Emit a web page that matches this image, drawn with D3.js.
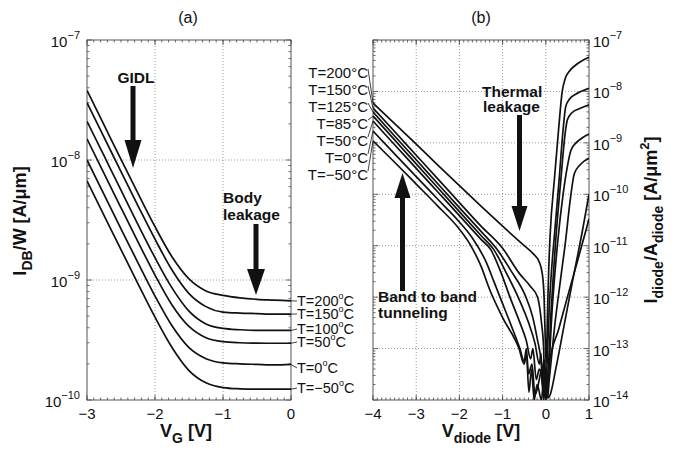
<!DOCTYPE html>
<html>
<head>
<meta charset="utf-8">
<script src="https://cdn.jsdelivr.net/npm/d3@7"></script>
<style>
  body { margin: 0; background: #fff; }
  svg { display: block; }
  text { font-family: "Liberation Sans", Arial, Helvetica, sans-serif; fill: #111; }
</style>
</head>
<body>
<script>
const width = 681;
const height = 450;

// ---------- panel (a): I_DB/W vs V_G ----------
const vgA = [-3, -2.75, -2.5, -2.25, -2, -1.75, -1.5, -1.25, -1, -0.75, -0.5, -0.25, 0];
const idbT200 = [3.8e-8, 1.96e-8, 1.01e-8, 5.26e-9, 2.78e-9, 1.56e-9, 1.02e-9, 8.1e-10, 7.45e-10, 7.1e-10, 6.9e-10, 6.8e-10, 6.7e-10];
const idbT150 = [3.0e-8, 1.55e-8, 8.0e-9, 4.15e-9, 2.19e-9, 1.21e-9, 7.7e-10, 6.0e-10, 5.4e-10, 5.3e-10, 5.25e-10, 5.2e-10, 5.2e-10];
const idbT100 = [2.1e-8, 1.085e-8, 5.6e-9, 2.9e-9, 1.535e-9, 8.6e-10, 5.5e-10, 4.3e-10, 3.95e-10, 3.85e-10, 3.8e-10, 3.8e-10, 3.8e-10];
const idbT50 = [1.5e-8, 7.75e-9, 4.0e-9, 2.08e-9, 1.1e-9, 6.2e-10, 4.1e-10, 3.3e-10, 3.06e-10, 3.0e-10, 2.98e-10, 2.97e-10, 2.97e-10];
const idbT0 = [1.0e-8, 5.16e-9, 2.67e-9, 1.39e-9, 7.35e-10, 4.15e-10, 2.73e-10, 2.21e-10, 2.04e-10, 2.0e-10, 1.98e-10, 1.96e-10, 1.98e-10];
const idbTm50 = [6.7e-9, 3.46e-9, 1.79e-9, 9.3e-10, 4.9e-10, 2.74e-10, 1.76e-10, 1.39e-10, 1.27e-10, 1.24e-10, 1.23e-10, 1.23e-10, 1.23e-10];
const labelsA = ["200", "150", "100", "50", "0", "\u221250"];

// ---------- panel (b): I_diode/A_diode vs V_diode, [V, I] ----------
const diodeT200 = [[-4,5.96e-9],[-3.5,2.37e-9],[-3,9.4e-10],[-2.5,3.7e-10],[-2,1.48e-10],[-1.5,5.9e-11],[-1,2.4e-11],[-0.5,1.0e-11],[-0.3,7.1e-12],[-0.15,4.8e-12],[-0.08,2.8e-12],[-0.04,1.0e-12],[-0.01,1.26e-13],[0.01,5.0e-14],[0.04,5.0e-13],[0.07,4.0e-12],[0.1,1.6e-11],[0.2,2.0e-10],[0.3,2.0e-9],[0.38,1.0e-8],[0.45,1.78e-8],[0.55,2.5e-8],[0.7,3.3e-8],[0.85,4.0e-8],[1,4.6e-8]];
const diodeT150 = [[-4,4.77e-9],[-3.5,1.66e-9],[-3,5.75e-10],[-2.5,2.0e-10],[-2,6.9e-11],[-1.5,2.4e-11],[-1,8.9e-12],[-0.6,2.8e-12],[-0.35,1.6e-12],[-0.19,1.0e-12],[-0.1,3.2e-13],[-0.05,1.0e-13],[-0.03,3.0e-14],[-0.02,6.0e-14],[0.0,1.5e-14],[0.02,3.2e-14],[0.08,6.3e-13],[0.14,4.0e-12],[0.19,1.29e-11],[0.3,1.58e-10],[0.4,1.78e-9],[0.46,5.0e-9],[0.55,7.1e-9],[0.7,8.9e-9],[1,1.15e-8]];
const diodeT125 = [[-4,3.98e-9],[-3.5,1.36e-9],[-3,4.7e-10],[-2.5,1.6e-10],[-2,5.5e-11],[-1.5,1.9e-11],[-1.12,8.3e-12],[-0.8,3.2e-12],[-0.46,1.0e-12],[-0.3,4.0e-13],[-0.2,1.58e-13],[-0.1,5.0e-14],[-0.07,2.5e-14],[-0.05,6.0e-14],[-0.03,1.58e-14],[0.05,3.2e-14],[0.12,5.0e-13],[0.18,3.2e-12],[0.23,1.29e-11],[0.35,2.0e-10],[0.45,1.58e-9],[0.5,2.8e-9],[0.6,3.8e-9],[0.8,4.7e-9],[1,5.5e-9]];
const diodeT85 = [[-4,3.33e-9],[-3.5,1.14e-9],[-3,3.9e-10],[-2.5,1.34e-10],[-2,4.6e-11],[-1.5,1.58e-11],[-1.2,8.3e-12],[-0.9,2.8e-12],[-0.64,1.0e-12],[-0.4,3.2e-13],[-0.25,1.26e-13],[-0.15,5.0e-14],[-0.11,8.0e-14],[-0.08,2.0e-14],[-0.05,4.0e-14],[-0.02,1.2e-14],[0.06,3.2e-14],[0.15,6.3e-13],[0.28,1.29e-11],[0.4,1.0e-10],[0.5,3.5e-10],[0.58,7.1e-10],[0.7,1.0e-9],[0.85,1.26e-9],[1,1.48e-9]];
const diodeT50 = [[-4,2.66e-9],[-3.5,9.2e-10],[-3,3.2e-10],[-2.5,1.11e-10],[-2,3.85e-11],[-1.5,1.33e-11],[-1.27,8.3e-12],[-1.05,3.2e-12],[-0.83,1.0e-12],[-0.6,3.2e-13],[-0.45,1.41e-13],[-0.35,6.3e-14],[-0.3,1.0e-13],[-0.22,2.5e-14],[-0.15,4.0e-14],[-0.1,3.0e-14],[-0.05,1.26e-14],[0.0,2.5e-14],[0.04,1.1e-14],[0.08,2.5e-14],[0.2,2.5e-13],[0.35,2.5e-12],[0.46,1.29e-11],[0.56,7.1e-11],[0.66,2.5e-10],[0.8,3.8e-10],[1,5.0e-10]];
const diodeT0 = [[-4,1.70e-9],[-3.5,6.1e-10],[-3,2.2e-10],[-2.5,8.0e-11],[-2,2.9e-11],[-1.7,1.41e-11],[-1.39,5.0e-12],[-1.2,2.0e-12],[-1.06,1.0e-12],[-0.8,2.8e-13],[-0.6,1.0e-13],[-0.5,5.6e-14],[-0.45,1.0e-13],[-0.4,3.2e-14],[-0.32,5.0e-14],[-0.25,1.26e-14],[-0.15,2.5e-14],[-0.1,4.0e-14],[-0.05,1.0e-14],[0.0,2.0e-14],[0.05,1.1e-14],[0.1,1.26e-14],[0.23,4.0e-14],[0.4,2.2e-13],[0.6,1.7e-12],[0.85,2.0e-11],[1,1.0e-10]];
const diodeTm50 = [[-4,1.09e-9],[-3.5,4.2e-10],[-3,1.58e-10],[-2.5,5.9e-11],[-2,2.1e-11],[-1.75,1.05e-11],[-1.5,4.0e-12],[-1.3,1.41e-12],[-1,4.0e-13],[-0.62,1.0e-13],[-0.5,5.0e-14],[-0.45,7.9e-14],[-0.39,1.41e-14],[-0.33,4.0e-14],[-0.27,1.0e-14],[-0.2,2.0e-14],[-0.1,1.0e-14],[-0.05,2.5e-14],[0.0,1.0e-14],[0.04,1.8e-14],[0.08,5.0e-14],[0.3,2.4e-13],[0.5,1.0e-12],[0.7,4.0e-12],[0.93,2.0e-11],[1,3.3e-11]];
const labelsB = ["200", "150", "125", "85", "50", "0", "\u221250"];

const ticksXA = [-3, -2, -1, 0];
const ticksXB = [-4, -3, -2, -1, 0, 1];
const decadesA = [-10, -9, -8, -7];
const decadesB = [-14, -13, -12, -11, -10, -9, -8, -7];

const svg = d3.select("body").append("svg")
  .attr("width", width)
  .attr("height", height);

const xA = d3.scaleLinear().domain([-3, 0]).range([87, 291]);
const yA = d3.scaleLog().domain([1e-10, 1e-7]).range([400, 40]);
const xB = d3.scaleLinear().domain([-4, 1]).range([373, 589]);
const yB = d3.scaleLog().domain([1e-14, 1e-7]).range([400, 40]);

const defs = svg.append("defs");

function drawFrame(x, y, xticks, decades, id) {
    const [x0, x1] = x.range();
    const [y1, y0] = y.range();
    const g = svg.append("g");

    defs.append("clipPath").attr("id", id)
      .append("rect").attr("x", x0).attr("y", y0).attr("width", x1 - x0).attr("height", y1 - y0);

    // dotted grid
    g.selectAll(".gx").data(xticks.slice(1, -1)).enter().append("line")
      .attr("x1", d => x(d)).attr("x2", d => x(d)).attr("y1", y0).attr("y2", y1)
      .attr("stroke", "#9a9a9a").attr("stroke-width", 1).attr("stroke-dasharray", "1,2");
    g.selectAll(".gy").data(decades.slice(1, -1)).enter().append("line")
      .attr("y1", d => y(Math.pow(10, d))).attr("y2", d => y(Math.pow(10, d))).attr("x1", x0).attr("x2", x1)
      .attr("stroke", "#9a9a9a").attr("stroke-width", 1).attr("stroke-dasharray", "1,2");

    // minor ticks
    const minorX = d3.range(xticks[0], xticks[xticks.length - 1] + 0.001, 0.1);
    const minorY = [];
    decades.slice(0, -1).forEach(e => { for (let k = 2; k < 10; k++) minorY.push(k * Math.pow(10, e)); });
    const tk = g.append("g").attr("stroke", "#444").attr("stroke-width", 0.8);
    minorX.forEach(v => {
        tk.append("line").attr("x1", x(v)).attr("x2", x(v)).attr("y1", y1).attr("y2", y1 - 2.5);
        tk.append("line").attr("x1", x(v)).attr("x2", x(v)).attr("y1", y0).attr("y2", y0 + 2.5);
    });
    xticks.forEach(v => {
        tk.append("line").attr("x1", x(v)).attr("x2", x(v)).attr("y1", y1).attr("y2", y1 - 5);
        tk.append("line").attr("x1", x(v)).attr("x2", x(v)).attr("y1", y0).attr("y2", y0 + 5);
    });
    minorY.forEach(v => {
        tk.append("line").attr("y1", y(v)).attr("y2", y(v)).attr("x1", x0).attr("x2", x0 + 2.5);
        tk.append("line").attr("y1", y(v)).attr("y2", y(v)).attr("x1", x1).attr("x2", x1 - 2.5);
    });
    decades.forEach(e => {
        const v = Math.pow(10, e);
        tk.append("line").attr("y1", y(v)).attr("y2", y(v)).attr("x1", x0).attr("x2", x0 + 5);
        tk.append("line").attr("y1", y(v)).attr("y2", y(v)).attr("x1", x1).attr("x2", x1 - 5);
    });

    g.append("rect").attr("x", x0).attr("y", y0).attr("width", x1 - x0).attr("height", y1 - y0)
      .attr("fill", "none").attr("stroke", "#555").attr("stroke-width", 1);

    // x tick labels
    g.selectAll(".xl").data(xticks).enter().append("text")
      .attr("x", d => x(d)).attr("y", y1 + 19)
      .attr("text-anchor", "middle").attr("font-size", 15)
      .text(d => d < 0 ? "\u2212" + Math.abs(d) : d);
}

function decadeLabel(x, yPos, e, anchor) {
    const t = svg.append("text").attr("x", x).attr("y", yPos + 7)
      .attr("font-size", 15).attr("text-anchor", anchor);
    t.append("tspan").text("10");
    t.append("tspan").attr("dy", -8).attr("font-size", 11).text("\u2212" + Math.abs(e));
}

drawFrame(xA, yA, ticksXA, decadesA, "clipA");
drawFrame(xB, yB, ticksXB, decadesB, "clipB");

decadesA.forEach(e => decadeLabel(80, yA(Math.pow(10, e)), e, "end"));
decadesB.forEach(e => decadeLabel(593, yB(Math.pow(10, e)), e, "start"));

// ---------- curves (a) ----------
const seriesA = [idbT200, idbT150, idbT100, idbT50, idbT0, idbTm50];
const lineA = d3.line().x(d => xA(d[0])).y(d => yA(d[1])).curve(d3.curveMonotoneX);
svg.append("g").attr("clip-path", "url(#clipA)")
  .selectAll("path").data(seriesA).enter().append("path")
  .attr("d", s => lineA(vgA.map((v, i) => [v, s[i]])))
  .attr("fill", "none").attr("stroke", "#111").attr("stroke-width", 1.7);

// labels (a) with leader lines
const labelYA = [301, 314, 329, 342, 368, 388];
seriesA.forEach((s, i) => {
    const yEnd = yA(s[s.length - 1]);
    svg.append("line").attr("x1", xA(0)).attr("y1", yEnd).attr("x2", 297).attr("y2", labelYA[i])
      .attr("stroke", "#111").attr("stroke-width", 0.8);
    const t = svg.append("text").attr("x", 297).attr("y", labelYA[i] + 5).attr("font-size", 14.5);
    t.append("tspan").text("T=" + labelsA[i]);
    t.append("tspan").attr("dy", -7).attr("font-size", 9).text("o");
    t.append("tspan").attr("dy", 7).text("C");
});

// ---------- curves (b) ----------
const seriesB = [diodeT200, diodeT150, diodeT125, diodeT85, diodeT50, diodeT0, diodeTm50];
const lineB = d3.line().x(d => xB(d[0])).y(d => yB(d[1])).curve(d3.curveMonotoneX);
svg.append("g").attr("clip-path", "url(#clipB)")
  .selectAll("path").data(seriesB).enter().append("path")
  .attr("d", s => lineB(s))
  .attr("fill", "none").attr("stroke", "#111").attr("stroke-width", 1.7);

const labelYB = [73, 90, 107, 124, 141, 158, 175];
seriesB.forEach((s, i) => {
    svg.append("text").attr("x", 368).attr("y", labelYB[i] + 5)
      .attr("text-anchor", "end").attr("font-size", 15)
      .text("T=" + labelsB[i] + "\u00b0C");
    svg.append("line").attr("x1", 368).attr("y1", labelYB[i] - 4).attr("x2", xB(s[0][0])).attr("y2", yB(s[0][1]))
      .attr("stroke", "#111").attr("stroke-width", 0.8);
});

// ---------- arrows ----------
function arrow(x, yTail, yTip, headL, headW, shaftW) {
    const dir = yTip > yTail ? 1 : -1;
    const yBase = yTip - dir * headL;
    svg.append("rect").attr("x", x - shaftW / 2).attr("y", Math.min(yTail, yBase))
      .attr("width", shaftW).attr("height", Math.abs(yBase - yTail)).attr("fill", "#111");
    svg.append("path")
      .attr("d", `M${x - headW / 2},${yBase}L${x + headW / 2},${yBase}L${x},${yTip}Z`)
      .attr("fill", "#111");
}
arrow(133, 86, 168, 28, 17, 5);
arrow(256, 224, 295, 26, 18, 5);
arrow(519.5, 115, 231, 25, 16, 5);
arrow(402.5, 291, 173, 25, 16, 5);

function boldText(x, y, str, anchor) {
    svg.append("text").attr("x", x).attr("y", y).attr("font-size", 15.5)
      .attr("font-weight", "bold").attr("text-anchor", anchor || "start").text(str);
}
boldText(136, 83, "GIDL", "middle");
boldText(223, 203, "Body");
boldText(223, 220, "leakage");
boldText(482, 97, "Thermal");
boldText(483, 112, "leakage");
boldText(378, 302, "Band to band");
boldText(378, 318, "tunneling");

// ---------- titles ----------
svg.append("text").attr("x", 188).attr("y", 23).attr("text-anchor", "middle").attr("font-size", 16).text("(a)");
svg.append("text").attr("x", 481).attr("y", 23).attr("text-anchor", "middle").attr("font-size", 16).text("(b)");

const xtA = svg.append("text").attr("x", 186).attr("y", 437).attr("text-anchor", "middle")
  .attr("font-size", 18).attr("font-weight", "bold");
xtA.append("tspan").text("V");
xtA.append("tspan").attr("dy", 6).attr("font-size", 14).text("G");
xtA.append("tspan").attr("dy", -6).text(" [V]");

const xtB = svg.append("text").attr("x", 481).attr("y", 437).attr("text-anchor", "middle")
  .attr("font-size", 18).attr("font-weight", "bold");
xtB.append("tspan").text("V");
xtB.append("tspan").attr("dy", 6).attr("font-size", 14).text("diode");
xtB.append("tspan").attr("dy", -6).text(" [V]");

const ytA = svg.append("text").attr("transform", "translate(26,221) rotate(-90)")
  .attr("text-anchor", "middle").attr("font-size", 18).attr("font-weight", "bold");
ytA.append("tspan").text("I");
ytA.append("tspan").attr("dy", 6).attr("font-size", 14).text("DB");
ytA.append("tspan").attr("dy", -6).text("/W [A/\u03bcm]");

const ytB = svg.append("text").attr("transform", "translate(657,220) rotate(-90)")
  .attr("text-anchor", "middle").attr("font-size", 18).attr("font-weight", "bold");
ytB.append("tspan").text("I");
ytB.append("tspan").attr("dy", 6).attr("font-size", 14).text("diode");
ytB.append("tspan").attr("dy", -6).text("/A");
ytB.append("tspan").attr("dy", 6).attr("font-size", 14).text("diode");
ytB.append("tspan").attr("dy", -6).text(" [A/\u03bcm");
ytB.append("tspan").attr("dy", -8).attr("font-size", 13).text("2");
ytB.append("tspan").attr("dy", 8).text("]");
</script>
</body>
</html>
